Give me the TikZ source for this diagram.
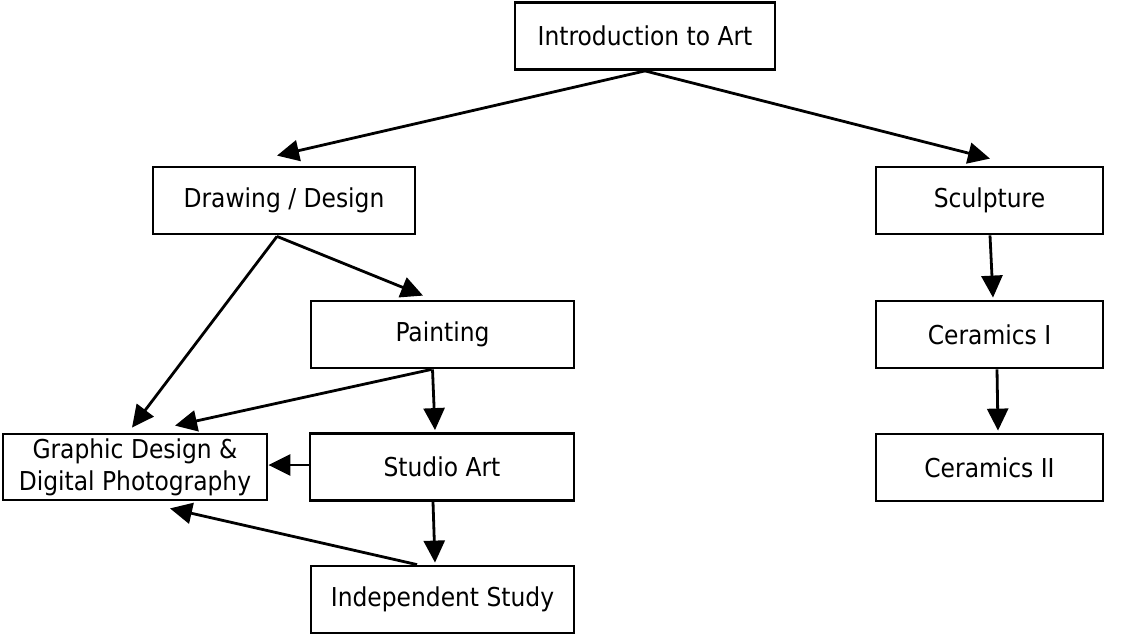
\documentclass[tikz,border=0pt]{standalone}
\usepackage{fontspec}
\setmainfont{DejaVu Sans Condensed}
\usetikzlibrary{arrows.meta,calc}
\begin{document}
\begin{tikzpicture}[x=1pt,y=-1pt,
  course/.style={draw,line width=2.8pt,minimum height=67pt,inner sep=0pt,align=center,
    font=\fontsize{26}{32}\selectfont},
  link/.style={line width=2.8pt,-{Triangle[length=22pt,width=21pt]}}]
\useasboundingbox (0,0) rectangle (1131,635);
% course boxes
\node[course,minimum width=260pt] (intro)  at (645,36)      {Introduction to Art};
\node[course,minimum width=262pt] (draw)   at (284,200.5)   {Drawing / Design};
\node[course,minimum width=227pt] (sculpt) at (989.5,200.5) {Sculpture};
\node[course,minimum width=227pt] (cer1)   at (989.5,334.5) {Ceramics I};
\node[course,minimum width=227pt] (cer2)   at (989.5,467.5) {Ceramics II};
\node[course,minimum width=263pt] (paint)  at (442.5,334.5) {Painting};
\node[course,minimum width=264pt] (studio) at (442,467)     {Studio Art};
\node[course,minimum width=264pt,minimum height=66pt] (graphic) at (135,467)
  {Graphic Design \&\\Digital Photography};
\node[course,minimum width=263pt] (indep)  at (442.5,599.5) {Independent Study};
% prerequisite links
\draw[link] (intro.south) -- ($(draw.north)+(-7,-10)$);
\draw[link] (intro.south) -- ($(sculpt.north)+(0.5,-7)$);
\draw[link] ($(draw.south)+(-7,1)$) -- ($(graphic.north)+(-3,-5)$);
\draw[link] ($(draw.south)+(-7,1)$) -- ($(paint.north)+(-19.5,-4)$);
\draw[link] ($(paint.south)+(-11,0)$) -- ($(graphic.north)+(40,-7)$);
\draw[link] ($(paint.south)+(-10,0)$) -- ($(studio.north)+(-7,-2)$);
\draw[link] ($(studio.west)+(0,-2)$) -- ($(graphic.east)+(0,-2)$);
\draw[link] ($(studio.south)+(-9,0)$) -- ($(indep.north)+(-7.5,-2)$);
\draw[link] ($(indep.north)+(-25.5,0)$) -- ($(graphic.south)+(35,7)$);
\draw[link] ($(sculpt.south)+(0.5,0)$) -- ($(cer1.north)+(3.5,-2)$);
\draw[link] ($(cer1.south)+(7.5,0)$) -- ($(cer2.north)+(8.5,-2)$);
\end{tikzpicture}
\end{document}
